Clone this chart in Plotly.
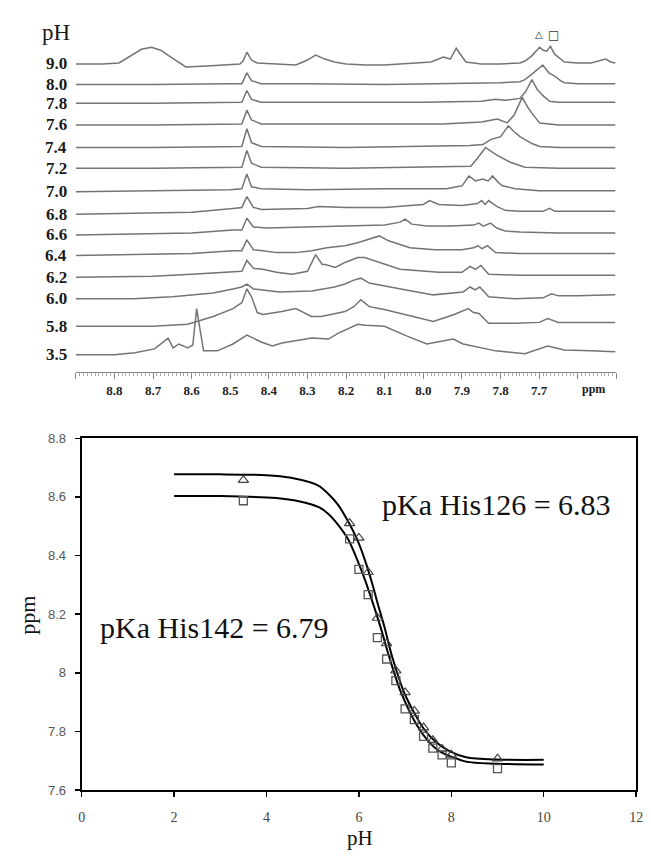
import plotly.graph_objects as go

W, H = 651, 856

# ---------------- DATA ----------------
# Top panel: 1H NMR spectra (ppm, intensity above the row baseline, arbitrary units)
ROW_LABELS = ["9.0", "8.0", "7.8", "7.6", "7.4", "7.2", "7.0", "6.8", "6.6", "6.4", "6.2", "6.0", "5.8", "3.5"]

SPEC_9_0 = [(8.900, 0), (8.831, 0), (8.788, 1), (8.760, 8), (8.730, 15), (8.704, 17), (8.680, 14), (8.650, 6),
            (8.615, -3), (8.560, -2), (8.500, -1), (8.475, 0), (8.467, 3), (8.457, 12), (8.445, 4), (8.430, 1),
            (8.380, 0), (8.330, -1), (8.300, 4), (8.279, 9), (8.255, 5), (8.230, 2), (8.200, 0), (8.150, -1),
            (8.101, -1), (8.050, 0), (7.980, 2), (7.948, 7), (7.930, 5), (7.915, 16), (7.900, 8), (7.890, 2),
            (7.850, 0), (7.800, 0), (7.750, 1), (7.737, 3), (7.720, 8), (7.699, 17), (7.690, 14), (7.681, 13),
            (7.671, 18), (7.660, 10), (7.635, 2), (7.600, 1), (7.566, 1), (7.528, 5), (7.515, 2), (7.503, 1)]
SPEC_8_0 = [(8.900, 0), (8.700, 0), (8.500, 1), (8.470, 1), (8.457, 12), (8.445, 4), (8.420, 1), (8.300, 1),
            (8.100, 0), (7.900, 1), (7.800, 2), (7.750, 3), (7.737, 5), (7.715, 12), (7.691, 20), (7.675, 12),
            (7.661, 9), (7.645, 4), (7.635, 2), (7.600, 1), (7.503, 1)]
SPEC_7_8 = [(8.900, 0), (8.700, 0), (8.470, 1), (8.457, 13), (8.445, 4), (8.420, 1), (8.200, 1), (8.000, 1),
            (7.850, 2), (7.813, 4), (7.790, 3), (7.750, 5), (7.735, 12), (7.719, 24), (7.705, 14), (7.691, 8),
            (7.673, 2), (7.650, 1), (7.503, 1)]
SPEC_7_6 = [(8.900, 0), (8.700, 0), (8.470, 1), (8.457, 15), (8.445, 5), (8.420, 1), (8.200, 1), (7.950, 1),
            (7.850, 3), (7.808, 6), (7.783, 2), (7.765, 10), (7.744, 28), (7.730, 18), (7.719, 12), (7.699, 2),
            (7.650, 0), (7.503, 0)]
SPEC_7_4 = [(8.900, 0), (8.700, 0), (8.470, 1), (8.457, 19), (8.445, 5), (8.420, 1), (8.200, 0), (7.950, 1),
            (7.880, 2), (7.846, 3), (7.826, 8), (7.800, 11), (7.780, 22), (7.765, 16), (7.750, 11), (7.719, 4),
            (7.699, 1), (7.650, 0), (7.503, 0)]
SPEC_7_2 = [(8.900, 0), (8.700, 0), (8.470, 1), (8.457, 18), (8.445, 5), (8.420, 1), (8.200, 0), (7.950, 1),
            (7.877, 2), (7.860, 10), (7.839, 21), (7.813, 14), (7.775, 6), (7.737, 1), (7.650, 0), (7.503, 0)]
SPEC_7_0 = [(8.900, 0), (8.700, 1), (8.500, 2), (8.470, 3), (8.457, 18), (8.445, 5), (8.420, 3), (8.300, 2),
            (8.100, 3), (7.940, 3), (7.900, 6), (7.882, 16), (7.865, 11), (7.846, 13), (7.832, 11), (7.821, 16),
            (7.805, 9), (7.795, 6), (7.762, 3), (7.700, 1), (7.503, 1)]
SPEC_6_8 = [(8.900, 0), (8.750, 1), (8.600, 2), (8.493, 6), (8.470, 7), (8.457, 18), (8.440, 7), (8.420, 5),
            (8.300, 6), (8.271, 8), (8.200, 7), (8.100, 7), (8.000, 10), (7.984, 14), (7.960, 10), (7.900, 9),
            (7.860, 11), (7.849, 14), (7.840, 10), (7.831, 14), (7.810, 8), (7.788, 4), (7.750, 3), (7.690, 3),
            (7.673, 6), (7.660, 3), (7.600, 3), (7.503, 3)]
SPEC_6_6 = [(8.900, 0), (8.700, 1), (8.600, 2), (8.493, 5), (8.470, 5), (8.457, 17), (8.440, 8), (8.406, 7),
            (8.300, 8), (8.200, 9), (8.100, 10), (8.060, 13), (8.047, 16), (8.030, 11), (7.991, 9), (7.930, 9),
            (7.870, 10), (7.856, 12), (7.845, 9), (7.826, 12), (7.810, 7), (7.788, 4), (7.750, 3), (7.650, 2),
            (7.503, 2)]
SPEC_6_4 = [(8.900, 0), (8.700, 1), (8.600, 2), (8.493, 5), (8.470, 5), (8.457, 16), (8.440, 6), (8.416, 5),
            (8.380, 3), (8.330, 3), (8.289, 5), (8.250, 8), (8.203, 10), (8.170, 13), (8.140, 17), (8.114, 20),
            (8.090, 15), (8.060, 11), (8.035, 8), (7.970, 6), (7.900, 6), (7.870, 8), (7.859, 10), (7.848, 7),
            (7.834, 10), (7.813, 3), (7.750, 2), (7.650, 2), (7.503, 2)]
SPEC_6_2 = [(8.900, 0), (8.700, 1), (8.600, 3), (8.493, 5), (8.470, 6), (8.457, 17), (8.440, 9), (8.416, 8),
            (8.380, 5), (8.340, 3), (8.300, 6), (8.279, 23), (8.262, 13), (8.254, 13), (8.228, 10), (8.203, 15),
            (8.170, 20), (8.152, 20), (8.120, 16), (8.060, 8), (7.960, 5), (7.900, 5), (7.879, 11), (7.865, 8),
            (7.851, 12), (7.831, 3), (7.750, 2), (7.650, 2), (7.503, 2)]
SPEC_6_0 = [(8.900, 0), (8.750, 0), (8.650, 2), (8.544, 6), (8.493, 10), (8.470, 12), (8.457, 15), (8.440, 10),
            (8.416, 9), (8.373, 7), (8.289, 8), (8.230, 12), (8.203, 15), (8.180, 19), (8.162, 21), (8.140, 16),
            (8.100, 13), (8.060, 10), (7.974, 4), (7.897, 7), (7.879, 12), (7.866, 9), (7.854, 12), (7.831, 2),
            (7.762, 0), (7.690, 1), (7.668, 5), (7.650, 3), (7.600, 3), (7.503, 4)]
SPEC_5_8 = [(8.900, 0), (8.700, 0), (8.610, 2), (8.544, 10), (8.493, 18), (8.470, 24), (8.457, 38), (8.445, 30),
            (8.430, 14), (8.416, 12), (8.366, 15), (8.330, 18), (8.290, 10), (8.264, 10), (8.203, 15), (8.180, 20),
            (8.162, 27), (8.140, 20), (8.101, 17), (8.050, 12), (7.974, 5), (7.920, 12), (7.884, 18), (7.870, 14),
            (7.856, 13), (7.831, 3), (7.760, 3), (7.700, 4), (7.678, 8), (7.650, 4), (7.503, 4)]
SPEC_3_5 = [(8.900, 0), (8.800, 0), (8.747, 2), (8.696, 6), (8.661, 17), (8.648, 7), (8.633, 11), (8.610, 7),
            (8.597, 10), (8.587, 47), (8.578, 25), (8.569, 4), (8.533, 4), (8.493, 11), (8.457, 20), (8.420, 13),
            (8.391, 9), (8.366, 12), (8.289, 17), (8.246, 16), (8.220, 22), (8.170, 31), (8.150, 30), (8.101, 29),
            (8.042, 19), (7.991, 11), (7.923, 16), (7.897, 11), (7.813, 4), (7.737, 1), (7.678, 9), (7.635, 5),
            (7.566, 4), (7.503, 3)]

SPECTRA = [SPEC_9_0, SPEC_8_0, SPEC_7_8, SPEC_7_6, SPEC_7_4, SPEC_7_2, SPEC_7_0,
           SPEC_6_8, SPEC_6_6, SPEC_6_4, SPEC_6_2, SPEC_6_0, SPEC_5_8, SPEC_3_5]

# Bottom panel: titration data
PH = [3.5, 5.8, 6.0, 6.2, 6.4, 6.6, 6.8, 7.0, 7.2, 7.4, 7.6, 7.8, 8.0, 9.0]
HIS126_PPM = [8.657, 8.51, 8.46, 8.343, 8.187, 8.10, 8.007, 7.933, 7.87, 7.813, 7.77, 7.74, 7.72, 7.707]
HIS142_PPM = [8.587, 8.457, 8.353, 8.267, 8.12, 8.047, 7.973, 7.877, 7.84, 7.783, 7.743, 7.72, 7.693, 7.673]

FIT126_PH = [2.0, 3.0, 4.0, 4.5, 5.13, 5.34, 5.55, 5.77, 5.98, 6.15, 6.30, 6.40, 6.55, 6.72, 7.0, 7.40, 7.68,
             7.96, 8.32, 8.96, 10.0]
FIT126_PPM = [8.677, 8.677, 8.674, 8.666, 8.638, 8.610, 8.573, 8.515, 8.448, 8.375, 8.298, 8.24, 8.158, 8.055,
              7.925, 7.81, 7.762, 7.733, 7.712, 7.704, 7.703]
FIT142_PH = [2.0, 3.0, 4.21, 4.70, 5.13, 5.34, 5.55, 5.77, 5.94, 6.13, 6.26, 6.47, 6.66, 6.89, 7.26, 7.51, 7.74,
             8.32, 8.96, 10.0]
FIT142_PPM = [8.603, 8.603, 8.596, 8.585, 8.565, 8.542, 8.505, 8.455, 8.395, 8.318, 8.258, 8.155, 8.052, 7.942,
              7.82, 7.765, 7.733, 7.697, 7.69, 7.687]

LABEL_126 = "pKa His126 = 6.83"
LABEL_142 = "pKa His142 = 6.79"

# ---------------- LAYOUT HELPERS ----------------
AXIS_PX = 372                     # pixel row of the top ppm axis
ROW_BASE_PX = [58, 79, 98, 120, 143, 164, 188, 211, 232, 253, 275, 297, 325, 354]


def fx(p):
    return p / W


def fy(p):
    return 1 - p / H


fig = go.Figure()

# top spectra
for spec, base in zip(SPECTRA, ROW_BASE_PX):
    off = AXIS_PX - base
    fig.add_trace(go.Scatter(
        x=[p for p, _ in spec], y=[off + h for _, h in spec],
        mode="lines", line=dict(color="#747474", width=1.5),
        xaxis="x", yaxis="y", hoverinfo="skip"))

# bottom fit curves
for xs, ys in [(FIT126_PH, FIT126_PPM), (FIT142_PH, FIT142_PPM)]:
    fig.add_trace(go.Scatter(
        x=xs, y=ys, mode="lines", line=dict(color="black", width=2, shape="spline", smoothing=0.8),
        xaxis="x2", yaxis="y2"))

fig.add_trace(go.Scatter(
    x=PH, y=HIS142_PPM, mode="markers",
    marker=dict(symbol="square-open", size=8, color="#555", line=dict(width=1.3, color="#555")),
    xaxis="x2", yaxis="y2"))
fig.add_trace(go.Scatter(
    x=PH, y=HIS126_PPM, mode="markers",
    marker=dict(symbol="triangle-up-open", size=9, color="#444", line=dict(width=1.2, color="#444")),
    xaxis="x2", yaxis="y2"))


def note(x, y, text, size, family="Liberation Serif", color="#111", xref="paper", yref="paper",
         xanchor="center", yanchor="middle", angle=0):
    return dict(xref=xref, yref=yref, x=x, y=y, text=text, showarrow=False,
                xanchor=xanchor, yanchor=yanchor, textangle=angle,
                font=dict(family=family, size=size, color=color))


annotations = []
# row labels
for lab, base in zip(ROW_LABELS, ROW_BASE_PX):
    annotations.append(note(fx(66), AXIS_PX - base, "<b>" + lab + "</b>", 17, color="#1a1a1a",
                            yref="y", xanchor="right"))
annotations += [
    note(fx(53), fy(26), "pH", 23, color="#1a1a1a"),
    note(fx(544), fy(28), "△", 10, family="DejaVu Sans", color="#333"),
    note(fx(559), fy(28), "□", 12, family="DejaVu Sans", color="#333"),
    note(7.56, fy(389), "<b>ppm</b>", 12, color="#1a1a1a", xref="x"),
    note(fx(382), fy(506), LABEL_126, 30, xanchor="left"),
    note(fx(96), fy(632), LABEL_142, 30, xanchor="left"),
    note(fx(362), fy(846), "pH", 21),
    note(fx(24), fy(619), "ppm", 22, angle=-90),
]

fig.update_layout(
    width=W, height=H, margin=dict(l=0, r=0, t=0, b=0),
    paper_bgcolor="white", plot_bgcolor="white", showlegend=False,
    annotations=annotations,
    xaxis=dict(
        domain=[fx(73), fx(623)], range=[8.9, 7.5], anchor="y",
        tickmode="linear", tick0=7.5, dtick=0.1, tickformat=".1f",
        labelalias={"8.9": " ", "7.6": " ", "7.5": " "},
        ticks="outside", ticklen=6, tickcolor="#888", tickwidth=1,
        showline=True, linecolor="#888", linewidth=1,
        showgrid=False, zeroline=False,
        minor=dict(tickmode="linear", tick0=7.5, dtick=0.01, ticks="outside", ticklen=3,
                   tickcolor="#aaa", tickwidth=1, showgrid=False),
        tickfont=dict(family="Liberation Serif", size=13, color="#222", weight="bold")),
    yaxis=dict(domain=[fy(AXIS_PX), 1], range=[0, AXIS_PX], visible=False, anchor="x"),
    xaxis2=dict(
        domain=[fx(79), fx(643)], range=[0, 12], anchor="y2",
        tickmode="linear", tick0=0, dtick=2,
        ticks="outside", ticklen=5, tickcolor="black", tickwidth=1.5,
        showline=True, mirror=True, linecolor="black", linewidth=2,
        showgrid=False, zeroline=False, ticklabelstandoff=8,
        tickfont=dict(family="Liberation Serif", size=14, color="#444")),
    yaxis2=dict(
        domain=[fy(797), fy(439)], range=[7.6, 8.8], anchor="x2",
        tickmode="linear", tick0=7.6, dtick=0.2,
        ticks="outside", ticklen=5, tickcolor="black", tickwidth=1.5,
        showline=True, mirror=True, linecolor="black", linewidth=2,
        showgrid=False, zeroline=False, ticklabelstandoff=6,
        tickfont=dict(family="Liberation Sans", size=13, color="#555")),
)

# remove the browser's default 8px body margin so the figure fills the window exactly
fig.write_html(
    "out.html",
    config={"displayModeBar": False, "staticPlot": True},
    post_script="document.body.style.margin='0';document.body.style.overflow='hidden';",
)
